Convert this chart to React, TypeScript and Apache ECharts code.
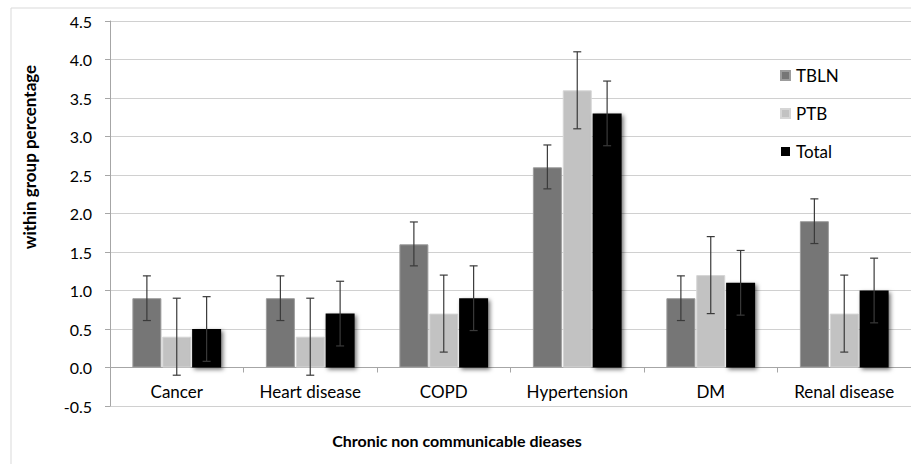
import React, { useEffect, useRef } from "react";
import * as echarts from "echarts";

const categories = ["Cancer", "Heart disease", "COPD", "Hypertension", "DM", "Renal disease"];
const seriesNames = ["TBLN", "PTB", "Total"];
const tblnValues = [0.9, 0.9, 1.6, 2.6, 0.9, 1.9];
const ptbValues = [0.4, 0.4, 0.7, 3.6, 1.2, 0.7];
const totalValues = [0.5, 0.7, 0.9, 3.3, 1.1, 1.0];
const tblnLower = [0.61, 0.61, 1.32, 2.32, 0.61, 1.61];
const tblnUpper = [1.19, 1.19, 1.89, 2.89, 1.19, 2.19];
const ptbLower = [-0.1, -0.1, 0.2, 3.1, 0.7, 0.2];
const ptbUpper = [0.9, 0.9, 1.2, 4.1, 1.7, 1.2];
const totalLower = [0.08, 0.28, 0.48, 2.88, 0.68, 0.58];
const totalUpper = [0.92, 1.12, 1.32, 3.72, 1.52, 1.42];
const yTicks = { min: -0.5, max: 4.5, interval: 0.5 };

const colors = ["#767676", "#c2c2c2", "#000000"];
const FONT = "Lato";
const BAR_W = 29;
const BAR_GAP_PCT = 3;
const GRID_TOP = 21;
const GRID_BOTTOM = 58;
const CHART_H = 464;

export default function App() {
  const ref = useRef<HTMLDivElement>(null);
  useEffect(() => {
    if (!ref.current) return;
    const chart = echarts.init(ref.current, undefined, { renderer: "svg" });
    const values = [tblnValues, ptbValues, totalValues];
    const lowers = [tblnLower, ptbLower, totalLower];
    const uppers = [tblnUpper, ptbUpper, totalUpper];
    const step = BAR_W * (1 + BAR_GAP_PCT / 100);
    const plotH = CHART_H - GRID_TOP - GRID_BOTTOM;
    // distance from the bottom of the plot (y = min) up to y = 0
    const zeroOffset = (plotH * (0 - yTicks.min)) / (yTicks.max - yTicks.min);

    const barSeries = seriesNames.map((name, i) => ({
      name,
      type: "bar",
      data: values[i],
      barWidth: BAR_W,
      barGap: BAR_GAP_PCT + "%",
      itemStyle:
        i === 2
          ? {
              color: colors[i],
              shadowColor: "rgba(0,0,0,0.55)",
              shadowBlur: 4,
              shadowOffsetX: 2,
              shadowOffsetY: 2,
            }
          : { color: colors[i], borderColor: i === 0 ? "#9c9c9c" : "#d6d6d6", borderWidth: 1 },
      z: 2,
    }));

    const errSeries = seriesNames.map((name, i) => ({
      name: name + " error",
      type: "custom",
      z: 5,
      silent: true,
      data: categories.map((_, k) => [k, lowers[i][k], uppers[i][k]]),
      encode: { x: 0, y: [1, 2] },
      renderItem: (params: any, api: any) => {
        const k = api.value(0);
        const lo = api.coord([k, api.value(1)]);
        const hi = api.coord([k, api.value(2)]);
        const cx = lo[0] + (i - 1) * step;
        const half = 4;
        const style = { stroke: "#3a3a3a", lineWidth: 1.2 };
        return {
          type: "group",
          children: [
            { type: "line", shape: { x1: cx, y1: lo[1], x2: cx, y2: hi[1] }, style },
            { type: "line", shape: { x1: cx - half, y1: lo[1], x2: cx + half, y2: lo[1] }, style },
            { type: "line", shape: { x1: cx - half, y1: hi[1], x2: cx + half, y2: hi[1] }, style },
          ],
        };
      },
    }));

    chart.setOption({
      animation: false,
      textStyle: { fontFamily: FONT },
      grid: { left: 110, top: GRID_TOP, right: -2, bottom: GRID_BOTTOM, containLabel: false },
      legend: {
        data: seriesNames.map((n) => ({ name: n, icon: "rect" })),
        orient: "vertical",
        left: 775,
        top: 62,
        itemWidth: 9,
        itemHeight: 9,
        itemGap: 21,
        textStyle: { fontFamily: FONT, fontSize: 17, color: "#000", padding: [0, 0, 0, 1] },
      },
      xAxis: {
        type: "category",
        data: categories,
        position: "bottom",
        offset: -zeroOffset,
        axisLine: { onZero: false, lineStyle: { color: "#a6a6a6", width: 1 } },
        axisTick: { show: true, length: 5, lineStyle: { color: "#a6a6a6" } },
        axisLabel: { fontFamily: FONT, fontSize: 17, color: "#000", margin: 15 },
      },
      yAxis: {
        type: "value",
        min: yTicks.min,
        max: yTicks.max,
        interval: yTicks.interval,
        axisLine: { show: true, lineStyle: { color: "#a6a6a6" } },
        axisTick: { show: true, length: 5, lineStyle: { color: "#a6a6a6" } },
        axisLabel: {
          fontFamily: FONT,
          fontSize: 16,
          color: "#000",
          margin: 18,
          formatter: (v: number) => v.toFixed(1),
        },
        splitLine: { show: true, lineStyle: { color: "#d0d0d0", width: 1 } },
      },
      graphic: [
        {
          type: "rect",
          shape: { x: 11, y: 8, width: 1000, height: 600 },
          style: { fill: "none", stroke: "#d9d9d9", lineWidth: 1 },
          silent: true,
          z: -10,
        },
        {
          type: "text",
          x: 29,
          y: 157,
          rotation: Math.PI / 2,
          style: {
            text: "within group percentage",
            fontFamily: FONT,
            fontWeight: "bold",
            fontSize: 17,
            fill: "#000",
            align: "center",
            verticalAlign: "middle",
          },
        },
        {
          type: "text",
          x: 457,
          y: 440,
          style: {
            text: "Chronic non communicable dieases",
            fontFamily: FONT,
            fontWeight: "bold",
            fontSize: 16,
            fill: "#000",
            align: "center",
            verticalAlign: "middle",
          },
        },
      ],
      series: [...barSeries, ...errSeries],
    });
    return () => chart.dispose();
  }, []);
  return <div ref={ref} style={{ width: 911, height: 464, position: "absolute", left: 0, top: 0 }} />;
}
